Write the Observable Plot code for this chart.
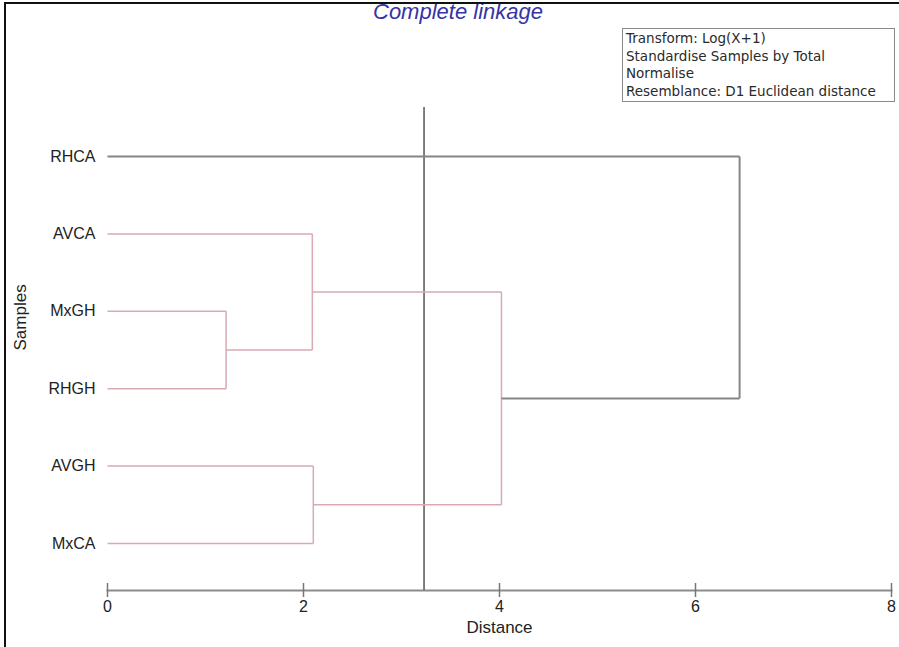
<!DOCTYPE html>
<html>
<head>
<meta charset="utf-8">
<script src="https://cdn.jsdelivr.net/npm/d3@7"></script>
<script src="https://cdn.jsdelivr.net/npm/@observablehq/plot@0.6"></script>
<style>
  html, body { margin: 0; padding: 0; background: #fff; }
  #wrap { position: relative; width: 899px; height: 647px; overflow: hidden; background: #fff; }
  #wrap svg { position: absolute; left: 0; top: 0; }
  #title { position: absolute; left: 0; width: 916px; top: 0px; text-align: center; line-height: 24px;
    font: italic 22px/24px "Liberation Sans", Arial, sans-serif; color: #3434a6; }
  #legend { position: absolute; left: 622px; top: 28px; width: 268px; height: 71px;
    border: 1px solid #8a8a8a; padding: 1px 0 0 3px; box-sizing: content-box;
    font: 13.5px/17.6px "DejaVu Sans", sans-serif; color: #2a2a2a; white-space: nowrap; }
  #frame { position: absolute; left: 4px; top: 2px; width: 899px; height: 660px;
    border-left: 2px solid #111; border-top: 2px solid #111; pointer-events: none; }
</style>
</head>
<body>
<div id="wrap">
  <div id="chart"></div>
  <div id="title">Complete linkage</div>
  <div id="legend"></div>
  <div id="frame"></div>
</div>
<script>
// Leaves (top to bottom)
const leaves = ["RHCA", "AVCA", "MxGH", "RHGH", "AVGH", "MxCA"];
// Merges of the complete-linkage dendrogram
const mergeNames = ["A", "B", "C", "D", "E"];
const mergeLeft = ["MxGH", "AVCA", "AVGH", "B", "RHCA"];
const mergeRight = ["RHGH", "A", "MxCA", "C", "D"];
const mergeHeight = [1.21, 2.09, 2.10, 4.02, 6.45];
// Slice (cut) distance
const cutDistance = [3.23];
// Axis ticks
const xTicks = [0, 2, 4, 6, 8];
// Legend text
const legendLines = ["Transform: Log(X+1)", "Standardise Samples by Total", "Normalise", "Resemblance: D1 Euclidean distance"];

document.getElementById("legend").innerHTML = legendLines.map(s => `<div>${s}</div>`).join("");

// Build node positions
const node = new Map();
leaves.forEach((name, i) => node.set(name, {x: 0, y: i}));
const segs = [];
mergeNames.forEach((name, i) => {
  const a = node.get(mergeLeft[i]), b = node.get(mergeRight[i]);
  const h = mergeHeight[i];
  const top = i === mergeNames.length - 1;
  node.set(name, {x: h, y: (a.y + b.y) / 2});
  segs.push({x1: a.x, x2: h, y1: a.y, y2: a.y, top});
  segs.push({x1: b.x, x2: h, y1: b.y, y2: b.y, top});
  segs.push({x1: h, x2: h, y1: a.y, y2: b.y, top});
});

const chart = Plot.plot({
  width: 899,
  height: 647,
  marginLeft: 107,
  marginRight: 8,
  marginTop: 0,
  marginBottom: 57,
  style: {fontFamily: '"Liberation Sans", Arial, sans-serif', fontSize: "16px", background: "transparent", color: "#222"},
  x: {domain: [0, 8]},
  y: {domain: [0, leaves.length - 1], range: [156, 543]},
  marks: [
    Plot.frame({anchor: "bottom", stroke: "#8c8c8c", strokeWidth: 2}),
    Plot.axisX({ticks: xTicks, tickSize: 14, dy: -7, text: null, label: null, stroke: "#777", strokeWidth: 1.5}),
    Plot.axisX({ticks: xTicks, tickSize: 0, tickPadding: 10, label: null, fontSize: 16, fill: "#222"}),
    Plot.axisY({ticks: d3.range(leaves.length), tickFormat: i => leaves[i], tickSize: 0, tickPadding: 12, label: null, fontSize: 16, fill: "#222"}),
    Plot.text(["Distance"], {text: d => d, frameAnchor: "bottom", dy: 42, fontSize: 17, fill: "#222"}),
    Plot.text(["Samples"], {text: d => d, frameAnchor: "left", dx: -87, dy: 55, rotate: -90, fontSize: 17, fill: "#222"}),
    Plot.ruleX(cutDistance, {x: d => d, insetTop: 107, stroke: "#555", strokeWidth: 1.5}),
    Plot.link(segs.filter(d => !d.top), {x1: "x1", x2: "x2", y1: "y1", y2: "y2", stroke: "#d9aab2", strokeWidth: 1.5}),
    Plot.link(segs.filter(d => d.top), {x1: "x1", x2: "x2", y1: "y1", y2: "y2", stroke: "#858585", strokeWidth: 2})
  ]
});
document.getElementById("chart").appendChild(chart);
</script>
</body>
</html>
